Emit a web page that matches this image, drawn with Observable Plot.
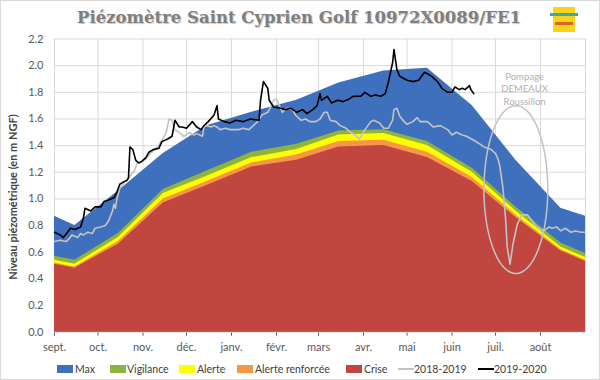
<!DOCTYPE html>
<html><head><meta charset="utf-8">
<script src="https://cdn.jsdelivr.net/npm/d3@7"></script>
<script src="https://cdn.jsdelivr.net/npm/@observablehq/plot@0.6"></script>
<style>
body{margin:0;background:#fff;}
#wrap{position:relative;width:600px;height:380px;overflow:hidden;font-family:Lato,"Open Sans",sans-serif;background:#fff;}
#frame{position:absolute;left:0;top:0;width:600px;height:380px;box-sizing:border-box;border:1px solid #d9d9d9;pointer-events:none;}
#title{position:absolute;left:0;top:8px;width:598px;text-align:center;font:bold 16.5px "DejaVu Serif","Liberation Serif",serif;color:#7f7f7f;text-shadow:1px 1px 1px #c8c8c8;white-space:nowrap;}
#chart{position:absolute;left:0;top:30px;}
#ytitle{position:absolute;left:12px;top:197px;transform:translate(-50%,-50%) rotate(-90deg);font-size:11px;font-weight:bold;color:#404040;white-space:nowrap;}
.leg{position:absolute;top:369px;transform:translateY(-50%);font-size:10.5px;color:#404040;white-space:nowrap;line-height:12px;}
.sw{position:absolute;top:365px;width:16px;height:8px;}
.ln{position:absolute;top:368px;width:16px;height:2px;}
#logo{position:absolute;left:553px;top:7px;width:22px;height:25px;background:#f7d417;}
#logo div{position:absolute;left:-3px;top:6px;width:28px;height:3px;background:#3aa7b8;}
#logo span{position:absolute;left:2px;top:15px;width:18px;height:3px;background:#d9672a;}
</style></head>
<body>
<div id="wrap">
  <div id="title">Piézomètre Saint Cyprien Golf 10972X0089/FE1</div>
  <div id="logo"><div></div><span></span></div>
  <div id="chart"></div>
  <div id="ytitle">Niveau piézométrique (en m NGF)</div>
  <div id="legend"></div>
  <div id="frame"></div>
</div>
<script>
// ---- Data ----
// x positions are days since 1 September (2019-2020 season)
const monthStarts = [0, 30, 61, 91, 122, 153, 182, 213, 243, 274, 304, 335];
const monthLabels = ["sept.", "oct.", "nov.", "déc.", "janv.", "févr.", "mars", "avr.", "mai", "juin", "juil.", "août"];
const gridDays = [0, 30, 61, 91, 122, 153, 182, 213, 243, 274, 304, 335, 366];
const yTicks = [0, 0.2, 0.4, 0.6, 0.8, 1.0, 1.2, 1.4, 1.6, 1.8, 2.0, 2.2];

// Envelope (threshold) curves, at month mid-points plus ends
const envDays    = [0, 14, 44, 75, 105, 136, 167, 196, 227, 257, 288, 318, 349, 366];
const maxVals    = [0.87, 0.80, 1.06, 1.34, 1.55, 1.65, 1.74, 1.87, 1.96, 1.98, 1.70, 1.29, 0.93, 0.87];
const vigilance  = [0.57, 0.54, 0.74, 1.07, 1.21, 1.35, 1.41, 1.51, 1.52, 1.43, 1.23, 0.94, 0.67, 0.59];
const alerte     = [0.54, 0.51, 0.71, 1.04, 1.17, 1.31, 1.37, 1.48, 1.49, 1.40, 1.20, 0.91, 0.64, 0.56];
const alerteRenf = [0.52, 0.49, 0.68, 1.00, 1.13, 1.27, 1.33, 1.43, 1.44, 1.35, 1.16, 0.88, 0.62, 0.54];
const crise      = [0.51, 0.48, 0.66, 0.97, 1.10, 1.24, 1.29, 1.39, 1.40, 1.31, 1.13, 0.86, 0.61, 0.53];

// 2018-2019 series (grey)
const days1819 = [0,4,8,10,12,16,18,20,23,26,28,32,35,37,40,41,42,43,45,48,50,52,55,57,60,63,66,71,74,77,79,81,83,87,89,93,96,98,102,103,105,108,110,112,114,118,121,127,130,134,137,140,143,147,149,151,153,155,157,160,164,166,170,173,176,180,183,186,188,190,194,197,201,204,207,210,212,214,218,220,224,227,230,233,234,236,238,241,243,247,250,252,257,261,266,271,274,277,281,284,289,292,296,301,304,306,307,309,311,312,314,316,319,322,326,329,332,334,337,341,343,346,349,352,356,359,363,366];
const vals1819 = [0.68,0.69,0.68,0.70,0.73,0.71,0.74,0.73,0.75,0.74,0.78,0.79,0.80,0.83,0.91,0.96,0.93,1.00,1.08,1.12,1.14,1.17,1.21,1.27,1.28,1.30,1.34,1.39,1.44,1.50,1.60,1.59,1.52,1.49,1.47,1.50,1.48,1.49,1.47,1.54,1.55,1.54,1.55,1.54,1.52,1.53,1.52,1.52,1.53,1.52,1.55,1.58,1.63,1.65,1.69,1.74,1.75,1.70,1.65,1.68,1.67,1.63,1.59,1.60,1.58,1.58,1.60,1.65,1.65,1.59,1.58,1.55,1.53,1.50,1.48,1.45,1.48,1.52,1.58,1.59,1.57,1.53,1.53,1.59,1.67,1.68,1.62,1.58,1.56,1.58,1.61,1.58,1.58,1.54,1.55,1.52,1.48,1.50,1.48,1.47,1.44,1.42,1.39,1.37,1.34,1.29,1.24,1.09,0.84,0.64,0.51,0.66,0.81,0.88,0.88,0.84,0.79,0.78,0.76,0.79,0.78,0.79,0.76,0.78,0.75,0.76,0.75,0.75];

// 2019-2020 series (black)
const days1920 = [0,4,6,9,11,14,18,20,21,25,28,32,34,37,41,43,45,48,50,51,52,54,56,58,60,63,65,68,72,74,78,81,83,86,88,91,95,98,101,103,106,110,112,113,117,121,125,130,135,141,142,144,147,148,151,156,159,163,167,171,174,178,181,183,184,188,191,195,199,203,206,211,214,218,221,225,228,230,233,234,236,238,243,247,251,255,257,260,264,267,271,274,276,279,281,283,286,287,289];
const vals1920 = [0.75,0.73,0.71,0.75,0.78,0.77,0.79,0.86,0.93,0.91,0.94,0.94,0.98,0.99,1.01,1.05,1.11,1.13,1.14,1.16,1.39,1.37,1.29,1.27,1.28,1.31,1.35,1.37,1.38,1.43,1.45,1.47,1.59,1.54,1.54,1.53,1.58,1.54,1.52,1.55,1.58,1.63,1.70,1.60,1.58,1.57,1.59,1.58,1.60,1.59,1.74,1.88,1.83,1.74,1.69,1.68,1.67,1.68,1.65,1.67,1.64,1.67,1.70,1.79,1.74,1.77,1.72,1.74,1.73,1.75,1.77,1.77,1.80,1.77,1.78,1.77,1.79,1.87,2.02,2.12,1.97,1.92,1.89,1.88,1.89,1.95,1.94,1.92,1.88,1.83,1.80,1.80,1.84,1.82,1.83,1.82,1.85,1.82,1.79];

// Annotation (in data units): ellipse around July pumping dip
const noteLines = "Pompage\nDEMEAUX\nRoussillon";
const noteX = 324, noteY = 1.83;
const ellCenterX = 318, ellCenterY = 1.07, ellRadiusX = 22, ellRadiusY = 0.63;

// ---- Build tables ----
const env = envDays.map((d, i) => ({day: d, max: maxVals[i], vig: vigilance[i], al: alerte[i], ar: alerteRenf[i], cr: crise[i]}));
const s1819 = days1819.map((d, i) => ({day: d, v: vals1819[i]}));
const s1920 = days1920.map((d, i) => ({day: d, v: vals1920[i]}));
const ell = d3.range(0, 361, 5).map(a => ({
  x: ellCenterX + ellRadiusX * Math.cos(a * Math.PI / 180),
  y: ellCenterY + ellRadiusY * Math.sin(a * Math.PI / 180)
}));

const C = {max: "#3f70be", vig: "#8db43e", al: "#ffff00", ar: "#f79646", cr: "#c0463f", g1819: "#c3c3c3", g1920: "#000000"};

const chart = Plot.plot({
  width: 600,
  height: 330,
  marginLeft: 54,
  marginRight: 15,
  marginTop: 8.5,
  marginBottom: 28.3,
  style: {fontFamily: "Lato, 'Open Sans', sans-serif", fontSize: "11px", color: "#595959", background: "transparent", overflow: "visible"},
  x: {domain: [0, 366], ticks: monthStarts, tickFormat: d => monthLabels[monthStarts.indexOf(d)], tickSize: 4, tickPadding: 7, label: null},
  y: {domain: [0, 2.2], ticks: yTicks, tickFormat: d3.format(".1f"), tickSize: 0, tickPadding: 11, label: null},
  marks: [
    Plot.ruleY(yTicks, {stroke: "#d9d9d9", strokeWidth: 1}),
    Plot.ruleX(gridDays, {stroke: "#d9d9d9", strokeWidth: 1}),
    Plot.areaY(env, {x: "day", y: "max", fill: C.max}),
    Plot.areaY(env, {x: "day", y: "vig", fill: C.vig}),
    Plot.areaY(env, {x: "day", y: "al", fill: C.al}),
    Plot.areaY(env, {x: "day", y: "ar", fill: C.ar}),
    Plot.areaY(env, {x: "day", y: "cr", fill: C.cr}),
    Plot.line(s1819, {x: "day", y: "v", stroke: C.g1819, strokeWidth: 1.6}),
    Plot.line(s1920, {x: "day", y: "v", stroke: C.g1920, strokeWidth: 1.6}),
    Plot.line(ell, {x: "x", y: "y", stroke: "#c3c3c3", strokeWidth: 1.5, curve: "catmull-rom"}),
    Plot.text([noteLines], {x: () => noteX, y: () => noteY, text: d => d, fill: "#b0b0b0", fontSize: 9.5, lineHeight: 1.3, lineAnchor: "middle"})
  ]
});
document.getElementById("chart").appendChild(chart);

// ---- Legend ----
const legendItems = [
  {label: "Max", color: C.max, type: "sw", sx: 57, tx: 75},
  {label: "Vigilance", color: C.vig, type: "sw", sx: 110, tx: 127},
  {label: "Alerte", color: C.al, type: "sw", sx: 179, tx: 197},
  {label: "Alerte renforcée", color: C.ar, type: "sw", sx: 237, tx: 255},
  {label: "Crise", color: C.cr, type: "sw", sx: 346, tx: 364},
  {label: "2018-2019", color: C.g1819, type: "ln", sx: 398, tx: 414},
  {label: "2019-2020", color: C.g1920, type: "ln", sx: 478, tx: 494}
];
const lg = document.getElementById("legend");
legendItems.forEach(it => {
  const s = document.createElement("div");
  s.className = it.type;
  s.style.left = it.sx + "px";
  s.style.background = it.color;
  lg.appendChild(s);
  const t = document.createElement("div");
  t.className = "leg";
  t.style.left = it.tx + "px";
  t.textContent = it.label;
  lg.appendChild(t);
});
</script>
</body></html>
